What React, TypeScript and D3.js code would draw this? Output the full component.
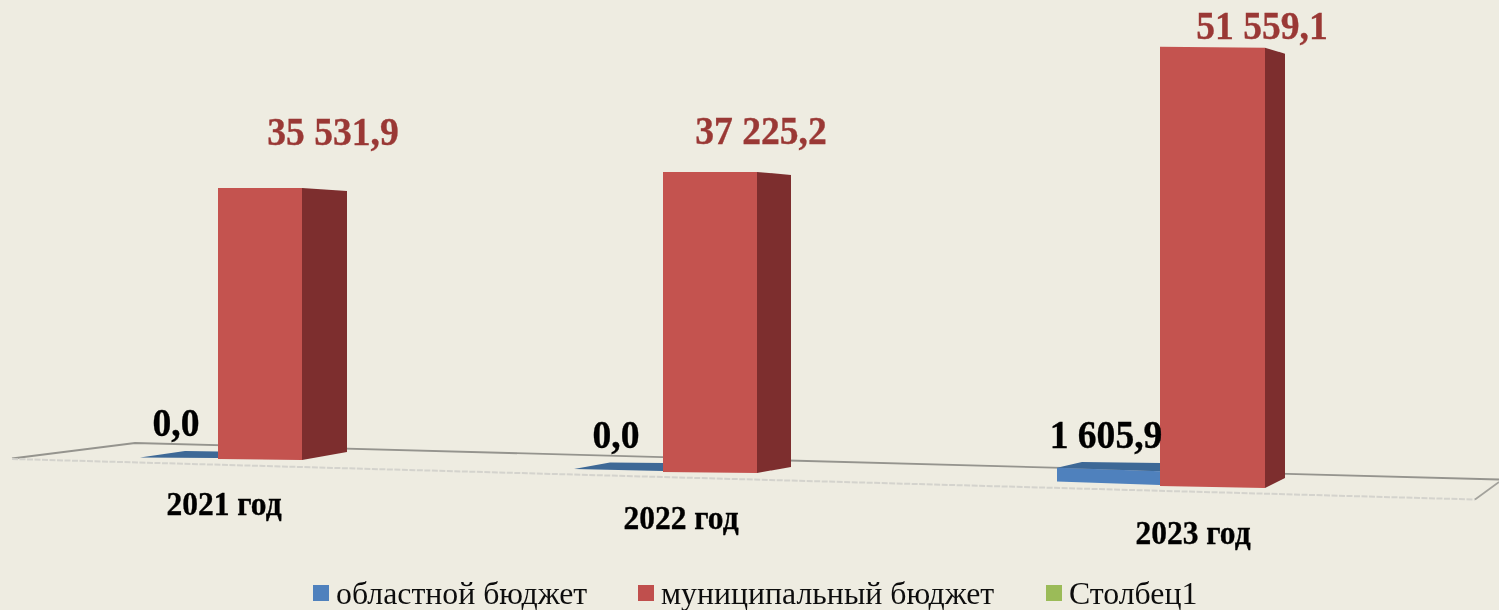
import React from "react";
import * as d3 from "d3";

const categories = ["2021 год", "2022 год", "2023 год"];
const oblastValues = [0, 0, 1605.9];
const municipalValues = [35531.9, 37225.2, 51559.1];
const valueLabelsOblast = ["0,0", "0,0", "1 605,9"];
const valueLabelsMunicipal = ["35 531,9", "37 225,2", "51 559,1"];
const legendLabels = ["областной бюджет", "муниципальный бюджет", "Столбец1"];

const W = 1499;
const H = 610;
const idx = [0, 1, 2];
const serif = "'Liberation Serif', 'Times New Roman', serif";

// perspective layout, one stop per category
const redLeft = d3.scaleLinear().domain(idx).range([218, 663, 1160]);
const redRight = d3.scaleLinear().domain(idx).range([302, 757, 1265]);
const redSide = d3.scaleLinear().domain(idx).range([347, 791, 1285]);
const baseL = d3.scaleLinear().domain(idx).range([459, 472, 486]);
const baseR = d3.scaleLinear().domain(idx).range([460, 473, 488]);
const sideBase = d3.scaleLinear().domain(idx).range([452, 467, 478]);
const sideDrop = d3.scaleLinear().domain(idx).range([3, 3, 6]);
const blueLeft = d3.scaleLinear().domain(idx).range([140, 574, 1057]);
const blueBack = d3.scaleLinear().domain(idx).range([185, 610, 1082]);
const blueBase = d3.scaleLinear().domain(idx).range([457.5, 469, 481.5]);
const blueBackBase = d3.scaleLinear().domain(idx).range([451, 462.5, 462]);
const pxPerUnit = d3.scaleLinear().domain(idx).range([0.00763, 0.00806, 0.00852]);
const heightOf = (v: number, i: number) =>
  d3.scaleLinear().domain([0, 1]).range([0, pxPerUnit(i)])(v);

const pts = (p: number[][]) => p.map((c) => c.join(",")).join(" ");

const oblastLabelPos = [[176, 436], [616, 448], [1106, 448]];
const municipalLabelPos = [[333, 145], [761, 144], [1262, 39]];
const categoryLabelPos = [[224, 515], [681, 529], [1193, 544]];
const legendSwatchX = [313, 638, 1046];
const legendColors = ["#4F81BD", "#C0504D", "#9BBB59"];

function Label(props: { x: number; y: number; size: number; sx: number; fill: string; children: string }) {
  return (
    <text
      transform={`translate(${props.x},${props.y}) scale(${props.sx},1)`}
      fontSize={props.size}
      fill={props.fill}
      stroke={props.fill}
      strokeWidth={0.35}
      textAnchor="middle"
      fontFamily={serif}
      fontWeight="bold"
    >
      {props.children}
    </text>
  );
}

export default function App() {
  React.useEffect(() => {
    document.body.style.margin = "0";
    document.body.style.background = "#EEECE1";
  }, []);
  return (
    <svg
      width={W}
      height={H}
      viewBox={`0 0 ${W} ${H}`}
      style={{ display: "block", position: "absolute", left: 0, top: 0 }}
    >
      <defs>
        <filter id="soft" x="-5%" y="-5%" width="110%" height="110%">
          <feGaussianBlur stdDeviation="0.6" />
        </filter>
      </defs>
      <rect width={W} height={H} fill="#EEECE1" />
      <g filter="url(#soft)">
        {/* floor */}
        <polyline points={pts([[12, 458.5], [135, 443], [1499, 479.5]])} fill="none" stroke="#95948E" strokeWidth={1.8} />
        <polyline points={pts([[12, 459], [1475, 499.5]])} fill="none" stroke="#D4D3CD" strokeWidth={2} strokeDasharray="6 1.5" />
        <polyline points={pts([[1475, 499.5], [1499, 482]])} fill="none" stroke="#A3A29C" strokeWidth={1.6} />

        {categories.map((_, i) => {
          const hB = heightOf(oblastValues[i], i);
          const hR = heightOf(municipalValues[i], i);
          const xl = redLeft(i);
          const xr = redRight(i);
          const xs = redSide(i);
          const tl = baseL(i) - hR;
          const tr = baseR(i) - hR - 1;
          const bl = blueLeft(i);
          const bb = blueBack(i);
          const baseAtRed = baseL(i) - 1;
          return (
            <g key={i}>
              {/* oblast bar: top face, front face */}
              <polygon
                points={pts([
                  [bl, blueBase(i) - hB],
                  [bb, blueBackBase(i)],
                  [xl, blueBackBase(i) + (i === 2 ? 1 : 0.5)],
                  [xl, baseAtRed - hB],
                ])}
                fill="#3C6796"
              />
              {hB > 0 && (
                <polygon
                  points={pts([
                    [bl, blueBase(i) - hB],
                    [xl, baseAtRed - hB],
                    [xl, baseAtRed],
                    [bl, blueBase(i)],
                  ])}
                  fill="#4F81BD"
                />
              )}
              {/* municipal bar: side face, front face */}
              <polygon
                points={pts([
                  [xr, tr],
                  [xs, tr + sideDrop(i)],
                  [xs, sideBase(i)],
                  [xr, baseR(i)],
                ])}
                fill="#7D2F2F"
              />
              <polygon
                points={pts([
                  [xl, tl],
                  [xr, tr],
                  [xr, baseR(i)],
                  [xl, baseL(i)],
                ])}
                fill="#C4524F"
              />
            </g>
          );
        })}

        {categories.map((c, i) => (
          <g key={c}>
            <Label x={oblastLabelPos[i][0]} y={oblastLabelPos[i][1]} size={40} sx={0.94} fill="#000">
              {valueLabelsOblast[i]}
            </Label>
            <Label x={municipalLabelPos[i][0]} y={municipalLabelPos[i][1]} size={40} sx={0.94} fill="#9A3936">
              {valueLabelsMunicipal[i]}
            </Label>
            <Label x={categoryLabelPos[i][0]} y={categoryLabelPos[i][1]} size={33} sx={0.955} fill="#000">
              {c}
            </Label>
          </g>
        ))}

        {legendLabels.map((l, i) => (
          <g key={l}>
            <rect x={legendSwatchX[i]} y={585} width={16} height={16} fill={legendColors[i]} />
            <text x={legendSwatchX[i] + 23} y={604} fontFamily={serif} fontSize={31.8} fill="#111">
              {l}
            </text>
          </g>
        ))}
      </g>
    </svg>
  );
}
